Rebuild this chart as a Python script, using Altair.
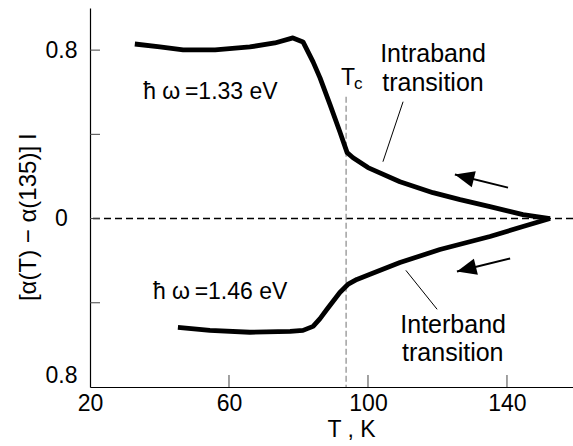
import altair as alt
import pandas as pd

# Intraband transition, hbar*omega = 1.33 eV
t_intra = [32.9, 40.1, 46.8, 56.0, 66.0, 73.2, 78.4, 81.3, 84.2, 86.2, 89.1, 91.9,
           94.0, 95.7, 100.0, 109.2, 118.7, 126.5, 135.1, 144.6, 152.4]
v_intra = [0.829, 0.815, 0.801, 0.801, 0.815, 0.834, 0.858, 0.839, 0.744, 0.668, 0.540, 0.412,
           0.313, 0.289, 0.242, 0.175, 0.123, 0.090, 0.057, 0.019, 0.0]

# Interband transition, hbar*omega = 1.46 eV
t_inter = [45.3, 54.5, 66.0, 77.6, 81.3, 84.2, 86.2, 88.2, 91.9, 94.2, 96.8, 100.6, 109.2,
           120.7, 135.1, 144.6, 152.4]
v_inter = [-0.517, -0.531, -0.540, -0.536, -0.531, -0.512, -0.475, -0.431, -0.351, -0.313,
           -0.289, -0.265, -0.209, -0.147, -0.085, -0.038, 0.0]

# Critical temperature
tc = 93.7
tc_top = 0.578

# Axis ticks
x_ticks = [20, 60, 100, 140]
y_label_ticks = [-0.8, 0.0, 0.8]
y_inner_ticks = [-0.4, 0.0, 0.4, 0.8]
x_inner_ticks = [60, 100, 140]

# Annotation texts
labels_text = ["ħ ω\u2009=1.33 eV", "ħ ω\u2009=1.46 eV", "T"]
labels_t = [35.3, 38.1, 92.2]
labels_v = [0.60, -0.35, 0.668]
sub_text = ["c"]
sub_t = [96.0]
sub_v = [0.637]
band_text = ["Intraband", "transition", "Interband", "transition"]
band_t = [118.7, 118.7, 124.5, 124.4]
band_v = [0.782, 0.645, -0.505, -0.637]

# Leader lines (T, v) -> (T2, v2)
lead_t = [110.1, 119.9]
lead_v = [0.555, -0.431]
lead_t2 = [104.3, 110.9]
lead_v2 = [0.270, -0.246]

# Arrows: tail -> tip
arr_t = [140.3, 140.9]
arr_v = [0.147, -0.190]
arr_t2 = [125.0, 125.6]
arr_v2 = [0.209, -0.251]
arr_angle = [14, 346]

FONT = "Liberation Sans"

xs = alt.Scale(domain=[20, 159], nice=False, zero=False)
ys = alt.Scale(domain=[-0.8, 1.0], nice=False, zero=False)

xaxis = alt.Axis(values=x_ticks, ticks=False, tickSize=0, grid=False, labelFlush=False,
                 labelFont=FONT, labelFontSize=23, labelColor="black", labelPadding=5,
                 domainColor="black", domainWidth=1.2,
                 title="T , K", titleFont=FONT, titleFontSize=23, titleFontWeight="normal",
                 titleColor="black", titleX=261, titleY=42, titleAlign="center",
                 titleBaseline="middle")
yaxis = alt.Axis(values=y_label_ticks, ticks=False, tickSize=0, grid=False,
                 labelFlush=True, labelAlign="center", labelPadding=29,
                 labelExpr="datum.value == 0 ? '0' : '0.8'",
                 labelFont=FONT, labelFontSize=23, labelColor="black",
                 domainColor="black", domainWidth=1.2,
                 title="[α(T) − α(135)] l", titleFont=FONT, titleFontSize=24,
                 titleFontWeight="normal", titleColor="black", titleX=-62, titleY=209,
                 titleAlign="center", titleBaseline="middle", titleAngle=-90)


def X(f):
    return alt.X(f, type="quantitative", scale=xs, axis=xaxis)


def Y(f):
    return alt.Y(f, type="quantitative", scale=ys, axis=yaxis)


curves = pd.DataFrame({
    "T": t_intra + t_inter,
    "v": v_intra + v_inter,
    "s": ["intra"] * len(t_intra) + ["inter"] * len(t_inter),
    "i": list(range(len(t_intra))) + list(range(len(t_inter))),
})

zero = alt.Chart(pd.DataFrame({"v": [0.0]})).mark_rule(
    color="black", strokeWidth=1.5, strokeDash=[7, 4]
).encode(y=Y("v"))

tc_line = alt.Chart(pd.DataFrame({"T": [tc], "v": [tc_top], "v2": [-0.8]})).mark_rule(
    color="#8a8a8a", strokeWidth=1.2, strokeDash=[6, 3]
).encode(x=X("T"), y=Y("v"), y2="v2")

xt = alt.Chart(pd.DataFrame({"T": x_inner_ticks})).mark_rule(
    color="#444444", strokeWidth=1
).encode(x=X("T"), y=alt.value(379), y2=alt.value(367))

yt = alt.Chart(pd.DataFrame({"v": y_inner_ticks})).mark_rule(
    color="#444444", strokeWidth=1
).encode(y=Y("v"), x=alt.value(0), x2=alt.value(10))

lines = alt.Chart(curves).mark_line(color="black", strokeWidth=4.8, strokeJoin="round").encode(
    x=X("T"), y=Y("v"), detail="s:N", order="i:Q"
)

labels = alt.Chart(pd.DataFrame({"T": labels_t, "v": labels_v, "txt": labels_text})).mark_text(
    font=FONT, fontSize=23, align="left", baseline="middle", color="black"
).encode(x=X("T"), y=Y("v"), text="txt:N")

sub = alt.Chart(pd.DataFrame({"T": sub_t, "v": sub_v, "txt": sub_text})).mark_text(
    font=FONT, fontSize=17, align="left", baseline="middle", color="black"
).encode(x=X("T"), y=Y("v"), text="txt:N")

bands = alt.Chart(pd.DataFrame({"T": band_t, "v": band_v, "txt": band_text})).mark_text(
    font=FONT, fontSize=25, align="center", baseline="middle", color="black"
).encode(x=X("T"), y=Y("v"), text="txt:N")

leaders = alt.Chart(pd.DataFrame({"T": lead_t, "v": lead_v, "T2": lead_t2, "v2": lead_v2})).mark_rule(
    color="black", strokeWidth=1
).encode(x=X("T"), y=Y("v"), x2="T2", y2="v2")

arrows_df = pd.DataFrame({"T": arr_t, "v": arr_v, "T2": arr_t2, "v2": arr_v2, "a": arr_angle})

shafts = alt.Chart(arrows_df).mark_rule(color="black", strokeWidth=2).encode(
    x=X("T"), y=Y("v"), x2="T2", y2="v2"
)

heads = alt.Chart(arrows_df).mark_point(
    shape="M0,0 L2,-0.85 L2,0.85 Z", filled=True, color="black", opacity=1, size=380,
    strokeWidth=0
).encode(x=X("T2"), y=Y("v2"), angle=alt.Angle("a:Q", scale=None))

chart = alt.layer(
    zero, tc_line, xt, yt, lines, labels, sub, bands, leaders, shafts, heads
).properties(
    width=483, height=379,
    autosize=alt.AutoSizeParams(type="none"),
    padding={"left": 90, "top": 8, "right": 0, "bottom": 59},
    background="white",
).configure_view(stroke=None)

chart.save("out.html", embed_options={"renderer": "svg", "actions": False})
